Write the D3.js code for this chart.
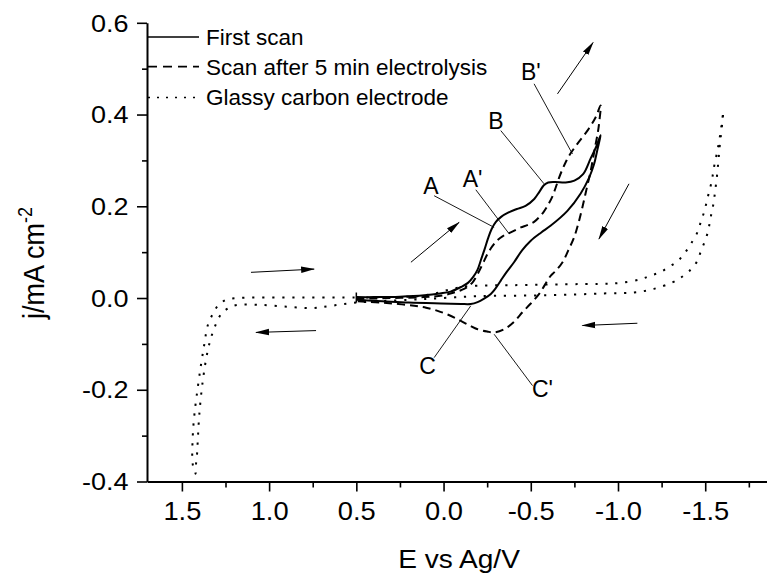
<!DOCTYPE html>
<html>
<head>
<meta charset="utf-8">
<script src="https://cdn.jsdelivr.net/npm/d3@7"></script>
<style>
  body { margin: 0; background: #fff; }
  svg text { font-family: "Liberation Sans", Arial, sans-serif; fill: #000; }
</style>
</head>
<body>
<svg id="canvas" width="767" height="577"></svg>
<script>
/***********************************************************************/
// Data (E in V vs Ag, j in mA cm-2)

var firstScan = [
  [0.50,0.002],[0.40,0.002],[0.25,0.003],[0.11,0.006],[0.02,0.010],[-0.04,0.014],[-0.10,0.024],
  [-0.14,0.033],[-0.17,0.046],[-0.195,0.062],[-0.215,0.084],[-0.235,0.106],[-0.255,0.130],
  [-0.275,0.150],[-0.30,0.166],[-0.33,0.177],[-0.37,0.186],[-0.42,0.194],[-0.47,0.201],
  [-0.52,0.216],[-0.55,0.232],[-0.575,0.246],[-0.60,0.252],[-0.64,0.253],[-0.70,0.252],
  [-0.75,0.256],[-0.80,0.270],[-0.844,0.305],[-0.875,0.330],[-0.90,0.355],
  [-0.895,0.345],[-0.88,0.320],[-0.863,0.292],[-0.834,0.262],[-0.786,0.228],[-0.71,0.190],
  [-0.615,0.158],[-0.56,0.143],[-0.50,0.125],[-0.45,0.104],[-0.404,0.078],[-0.36,0.056],
  [-0.328,0.038],[-0.30,0.022],[-0.271,0.009],[-0.23,-0.002],[-0.195,-0.009],[-0.156,-0.013],
  [-0.10,-0.013],[0.015,-0.012],[0.20,-0.010],[0.35,-0.007],[0.50,-0.004]
];

var afterElectrolysis = [
  [0.50,-0.002],[0.30,0.000],[0.113,0.002],[0.0,0.006],[-0.06,0.012],[-0.10,0.017],[-0.137,0.024],
  [-0.17,0.036],[-0.195,0.052],[-0.225,0.075],[-0.252,0.096],[-0.28,0.113],[-0.309,0.126],
  [-0.34,0.135],[-0.367,0.140],[-0.40,0.146],[-0.443,0.154],[-0.48,0.159],[-0.519,0.166],
  [-0.55,0.177],[-0.576,0.189],[-0.605,0.207],[-0.625,0.222],[-0.643,0.241],[-0.662,0.262],
  [-0.682,0.281],[-0.70,0.296],[-0.719,0.310],[-0.767,0.336],[-0.825,0.365],[-0.872,0.394],[-0.90,0.420],
  [-0.893,0.385],[-0.884,0.360],[-0.872,0.336],[-0.858,0.307],[-0.844,0.278],[-0.82,0.238],
  [-0.796,0.198],[-0.773,0.163],[-0.748,0.132],[-0.715,0.104],[-0.682,0.078],[-0.64,0.058],
  [-0.615,0.049],[-0.548,0.009],[-0.50,-0.012],[-0.452,-0.031],[-0.404,-0.052],[-0.347,-0.068],
  [-0.29,-0.075],[-0.25,-0.073],[-0.195,-0.068],[-0.15,-0.060],[-0.099,-0.050],[-0.03,-0.037],
  [0.034,-0.028],[0.10,-0.021],[0.168,-0.017],[0.26,-0.013],[0.359,-0.010],[0.50,-0.007]
];

var glassyCarbon = [
  [0.50,0.001],[0.30,0.002],[0.15,0.004],[0.05,0.010],[-0.05,0.020],[-0.15,0.026],[-0.40,0.028],
  [-0.70,0.030],[-0.90,0.031],[-1.015,0.033],[-1.13,0.041],[-1.187,0.049],[-1.241,0.056],
  [-1.292,0.068],[-1.344,0.081],[-1.388,0.101],[-1.426,0.123],[-1.455,0.143],[-1.474,0.165],
  [-1.493,0.187],[-1.508,0.209],[-1.521,0.230],[-1.537,0.254],[-1.546,0.275],[-1.556,0.297],
  [-1.569,0.319],[-1.578,0.339],[-1.588,0.361],[-1.596,0.385],[-1.604,0.407],
  [-1.600,0.390],[-1.592,0.361],[-1.585,0.339],[-1.580,0.318],[-1.575,0.297],[-1.570,0.276],
  [-1.564,0.254],[-1.556,0.232],[-1.550,0.211],[-1.538,0.189],[-1.527,0.167],[-1.516,0.145],
  [-1.497,0.123],[-1.474,0.101],[-1.455,0.081],[-1.412,0.060],[-1.359,0.044],[-1.312,0.034],
  [-1.206,0.020],[-1.092,0.012],[-0.92,0.010],[-0.60,0.006],[-0.20,0.004],[0.0,0.000],
  [0.20,-0.004],[0.50,-0.010],[0.645,-0.017],[0.76,-0.022],[0.893,-0.019],[1.046,-0.015],
  [1.18,-0.015],[1.228,-0.021],[1.275,-0.035],[1.323,-0.075],[1.352,-0.115],[1.38,-0.180],
  [1.40,-0.253],[1.409,-0.311],[1.413,-0.340],[1.419,-0.362],[1.422,-0.383],
  [1.438,-0.362],[1.438,-0.304],[1.428,-0.253],[1.409,-0.195],[1.39,-0.144],[1.371,-0.100],
  [1.352,-0.060],[1.323,-0.035],[1.294,-0.017],[1.247,-0.004],[1.18,0.000],[0.80,0.001],[0.50,0.001]
];

var xTicks = [1.5, 1.0, 0.5, 0.0, -0.5, -1.0, -1.5];
var xMinorTicks = [1.25, 0.75, 0.25, -0.25, -0.75, -1.25, -1.75];
var yTicks = [-0.4, -0.2, 0.0, 0.2, 0.4, 0.6];
var yMinorTicks = [-0.3, -0.1, 0.1, 0.3, 0.5];

var legendNames = ['First scan', 'Scan after 5 min electrolysis', 'Glassy carbon electrode'];

// peak labels: [name, E, j]
var peakLabels = [
  ['A', 0.073, 0.245], ["A'", -0.166, 0.260], ['B', -0.300, 0.387],
  ["B'", -0.500, 0.492], ['C', 0.092, -0.148], ["C'", -0.567, -0.198]
];
// leader lines: [E1, j1, E2, j2]
var leaders = [
  [0.054, 0.223, -0.290, 0.154], [-0.185, 0.236, -0.376, 0.140],
  [-0.328, 0.365, -0.576, 0.249], [-0.519, 0.467, -0.739, 0.314],
  [0.054, -0.130, -0.156, -0.017], [-0.510, -0.191, -0.290, -0.079]
];
// scan direction arrows: [E from, j from, E to, j to]
var arrows = [
  [1.104, 0.056, 0.742, 0.063], [0.731, -0.071, 1.075, -0.075],
  [0.187, 0.078, -0.089, 0.165], [-0.653, 0.445, -0.857, 0.557],
  [-1.063, 0.249, -0.891, 0.129], [-1.111, -0.055, -0.796, -0.060]
];
var startMark = [0.5, -0.010, 0.5, 0.012];

/***********************************************************************/
// Scales

var svg = d3.select('#canvas');
var x = d3.scaleLinear().domain([1.7, -1.9]).range([147, 775]);
var y = d3.scaleLinear().domain([-0.4, 0.6]).range([481.5, 22.8]);
var fmt = d => d.toFixed(1);

/***********************************************************************/
// Axes

var xAxis = svg.append('g').attr('transform', 'translate(0,' + y(-0.4) + ')')
  .call(d3.axisBottom(x).tickValues(xTicks).tickFormat(fmt).tickSizeInner(10).tickSizeOuter(0));
svg.append('g').attr('transform', 'translate(0,' + y(-0.4) + ')')
  .call(d3.axisBottom(x).tickValues(xMinorTicks).tickFormat('').tickSizeInner(6).tickSizeOuter(0))
  .select('.domain').remove();
xAxis.selectAll('text').attr('y', 29.5).attr('dy', '0.35em')
  .style('font-size', '26px').attr('transform', 'scale(1.05,1)');

var yAxis = svg.append('g').attr('transform', 'translate(' + x(1.7) + ',0)')
  .call(d3.axisLeft(y).tickValues(yTicks).tickFormat(fmt).tickSizeInner(10).tickSizeOuter(0));
svg.append('g').attr('transform', 'translate(' + x(1.7) + ',0)')
  .call(d3.axisLeft(y).tickValues(yMinorTicks).tickFormat('').tickSizeInner(5).tickSizeOuter(0))
  .select('.domain').remove();
yAxis.selectAll('text').attr('x', -18.5 / 1.15).attr('dy', '0.35em')
  .style('font-size', '23.5px').attr('transform', 'scale(1.15,1)');

svg.selectAll('.domain').attr('stroke', '#000').attr('stroke-width', 2);
svg.selectAll('.tick line').attr('stroke', '#000').attr('stroke-width', 1.6);

svg.append('text').attr('transform', 'translate(459,568) scale(1.08,1)')
  .attr('text-anchor', 'middle').style('font-size', '26px').text('E vs Ag/V');

var yTitle = svg.append('text').attr('transform', 'translate(44,263) rotate(-90) scale(1,1.1)')
  .attr('text-anchor', 'middle').style('font-size', '27px');
yTitle.append('tspan').text('j/mA cm');
yTitle.append('tspan').attr('dy', '-11').style('font-size', '18px').text('-2');

/***********************************************************************/
// Curves

var line = d3.line().x(d => x(d[0])).y(d => y(d[1])).curve(d3.curveCatmullRom.alpha(0.5));
var styles = [
  { data: firstScan, dash: null, legendDash: null },
  { data: afterElectrolysis, dash: '8,5', legendDash: '9,6' },
  { data: glassyCarbon, dash: '2.2,7.8', legendDash: '2,7' }
];

styles.forEach(s => {
  svg.append('path').attr('d', line(s.data)).attr('fill', 'none')
    .attr('stroke', '#000').attr('stroke-width', 2).attr('stroke-dasharray', s.dash);
});

svg.append('line').attr('x1', x(startMark[0])).attr('y1', y(startMark[1]))
  .attr('x2', x(startMark[2])).attr('y2', y(startMark[3])).attr('stroke', '#000').attr('stroke-width', 1.5);

/***********************************************************************/
// Legend

var legendY = [37, 66.7, 97.5];
styles.forEach((s, i) => {
  svg.append('line').attr('x1', 148).attr('x2', 199).attr('y1', legendY[i]).attr('y2', legendY[i])
    .attr('stroke', '#000').attr('stroke-width', 1.7).attr('stroke-dasharray', s.legendDash);
  svg.append('text').attr('x', 206).attr('y', legendY[i]).attr('dy', '0.35em')
    .style('font-size', '22.5px').text(legendNames[i]);
});

/***********************************************************************/
// Annotations

svg.append('defs').append('marker').attr('id', 'head').attr('markerUnits', 'userSpaceOnUse')
  .attr('viewBox', '0 -4 14 8').attr('refX', 13).attr('refY', 0)
  .attr('markerWidth', 14).attr('markerHeight', 8).attr('orient', 'auto')
  .append('path').attr('d', 'M0,-3.2L14,0L0,3.2Z').attr('fill', '#000');

svg.selectAll('.leader').data(leaders).enter().append('line').attr('class', 'leader')
  .attr('x1', d => x(d[0])).attr('y1', d => y(d[1])).attr('x2', d => x(d[2])).attr('y2', d => y(d[3]))
  .attr('stroke', '#000').attr('stroke-width', 0.9);

svg.selectAll('.arrow').data(arrows).enter().append('line').attr('class', 'arrow')
  .attr('x1', d => x(d[0])).attr('y1', d => y(d[1])).attr('x2', d => x(d[2])).attr('y2', d => y(d[3]))
  .attr('stroke', '#000').attr('stroke-width', 1).attr('marker-end', 'url(#head)');

svg.selectAll('.peak').data(peakLabels).enter().append('text').attr('class', 'peak')
  .attr('x', d => x(d[1])).attr('y', d => y(d[2])).attr('dy', '0.35em')
  .attr('text-anchor', 'middle').style('font-size', '23px').text(d => d[0]);
</script>
</body>
</html>
